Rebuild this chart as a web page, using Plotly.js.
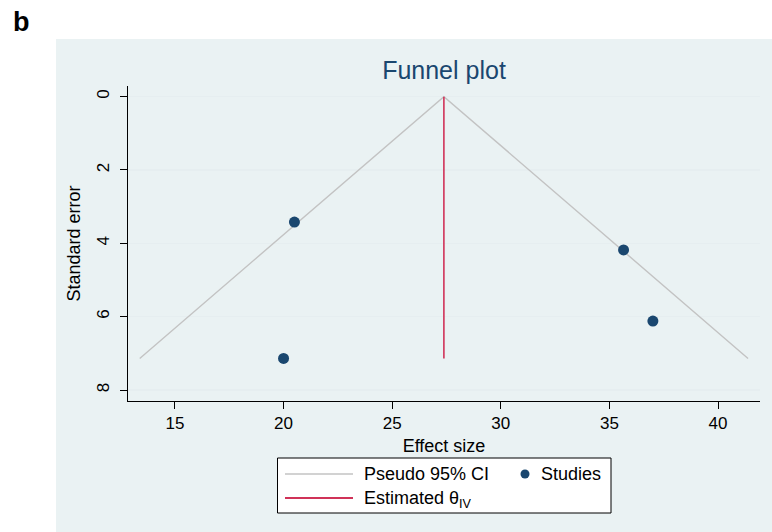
<!DOCTYPE html>
<html>
<head>
<meta charset="utf-8">
<script src="https://cdn.plot.ly/plotly-3.0.1.min.js"></script>
<style>
  html, body { margin: 0; padding: 0; background: #ffffff; }
  #chart { width: 772px; height: 532px; }
</style>
</head>
<body>
<div id="chart"></div>
<script>
// ---- data ----
const studyEffect = [20.5, 35.65, 37.0, 20.0];
const studySE     = [3.42, 4.18, 6.12, 7.14];
const thetaIV     = 27.38;
const thetaLineSE = [0, 7.14];
const funnelX     = [13.38, 27.38, 41.38];
const funnelY     = [7.14, 0, 7.14];
const xTicks = [15, 20, 25, 30, 35, 40];
const yTicks = [0, 2, 4, 6, 8];

// ---- geometry helpers (pixel -> paper) ----
const W = 772, H = 532;
const M = {l: 128, r: 12, t: 86, b: 131};
const PW = W - M.l - M.r, PH = H - M.t - M.b;
const px = x => (x - M.l) / PW;
const py = y => (H - M.b - y) / PH;

const navy = '#1a476f';
const red = '#d03258';
const grey = '#c3c3c3';
const font = 'Liberation Sans, Arial, sans-serif';

const traces = [
  {
    x: funnelX, y: funnelY, type: 'scatter', mode: 'lines',
    line: {color: grey, width: 1.4}, name: 'Pseudo 95% CI',
    showlegend: false, hoverinfo: 'skip'
  },
  {
    x: [thetaIV, thetaIV], y: thetaLineSE, type: 'scatter', mode: 'lines',
    line: {color: red, width: 1.6}, name: 'Estimated θ<sub>IV</sub>',
    showlegend: false, hoverinfo: 'skip'
  },
  {
    x: studyEffect, y: studySE, type: 'scatter', mode: 'markers',
    marker: {color: navy, size: 11}, name: 'Studies', showlegend: false
  }
];

const shapes = [
  // light bluish-grey panel
  {type: 'rect', xref: 'paper', yref: 'paper', layer: 'below',
   x0: px(56), x1: px(773), y0: py(533), y1: py(39),
   fillcolor: '#eaf2f3', line: {width: 0}},
  // legend box
  {type: 'rect', xref: 'paper', yref: 'paper',
   x0: px(277.5), x1: px(611), y0: py(513), y1: py(458),
   fillcolor: '#ffffff', line: {color: '#000000', width: 1}},
  // legend keys
  {type: 'line', xref: 'paper', yref: 'paper',
   x0: px(285), x1: px(353), y0: py(474), y1: py(474),
   line: {color: grey, width: 1.6}},
  {type: 'line', xref: 'paper', yref: 'paper',
   x0: px(285), x1: px(353), y0: py(498), y1: py(498),
   line: {color: red, width: 1.8}},
  {type: 'circle', xref: 'paper', yref: 'paper',
   x0: px(520.5), x1: px(529.5), y0: py(478.5), y1: py(469.5),
   fillcolor: navy, line: {color: navy, width: 0}}
];

const annotations = [
  {text: '<b>b</b>', xref: 'paper', yref: 'paper', x: px(11), y: py(22),
   xanchor: 'left', yanchor: 'middle', showarrow: false,
   font: {family: font, size: 27, color: '#000000'}},
  {text: 'Pseudo 95% CI', xref: 'paper', yref: 'paper', x: px(362), y: py(474),
   xanchor: 'left', yanchor: 'middle', showarrow: false,
   font: {family: font, size: 18, color: '#000000'}},
  {text: 'Studies', xref: 'paper', yref: 'paper', x: px(539), y: py(474),
   xanchor: 'left', yanchor: 'middle', showarrow: false,
   font: {family: font, size: 18, color: '#000000'}},
  {text: 'Estimated θ<sub>IV</sub>', xref: 'paper', yref: 'paper', x: px(362), y: py(499),
   xanchor: 'left', yanchor: 'middle', showarrow: false,
   font: {family: font, size: 18, color: '#000000'}}
];

const layout = {
  width: W, height: H,
  margin: M,
  paper_bgcolor: '#ffffff',
  plot_bgcolor: '#ffffff',
  showlegend: false,
  title: {
    text: 'Funnel plot', x: 0.5, xref: 'paper', xanchor: 'center',
    y: 1 - 70 / H, yanchor: 'middle',
    font: {family: font, size: 25, color: navy}
  },
  xaxis: {
    range: [12.84, 41.93], tickvals: xTicks, ticktext: xTicks.map(String),
    showgrid: false, zeroline: false,
    showline: true, linecolor: '#000000', linewidth: 1,
    ticks: 'outside', ticklen: 7, tickcolor: '#000000',
    tickfont: {family: font, size: 17, color: '#000000'},
    title: {text: 'Effect size', standoff: 6,
            font: {family: font, size: 18, color: '#000000'}}
  },
  yaxis: {
    range: [8.30, -0.29], tickvals: yTicks, ticktext: yTicks.map(String),
    showgrid: true, gridcolor: '#e6eef0', gridwidth: 1.2,
    zeroline: false,
    showline: true, linecolor: '#000000', linewidth: 1,
    ticks: 'outside', ticklen: 7, tickcolor: '#000000',
    tickangle: -90, ticklabelstandoff: 4,
    tickfont: {family: font, size: 17, color: '#000000'},
    title: {text: 'Standard error', standoff: 8,
            font: {family: font, size: 18, color: '#000000'}}
  },
  shapes: shapes,
  annotations: annotations
};

Plotly.newPlot('chart', traces, layout, {displayModeBar: false, staticPlot: true});
</script>
</body>
</html>
